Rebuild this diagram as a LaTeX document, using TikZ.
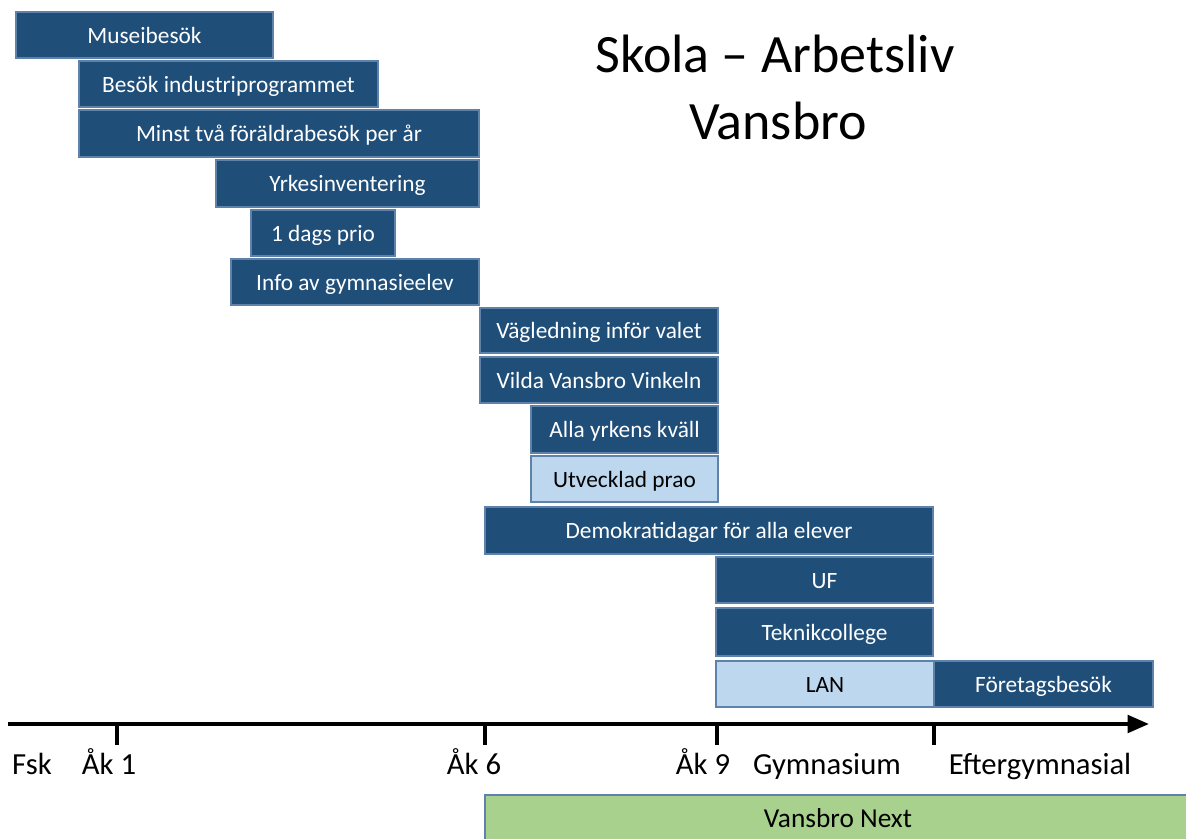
\documentclass[tikz,border=0pt]{standalone}
\usepackage{fontspec}
\setmainfont{Carlito}
\usepackage{tikz}
\usetikzlibrary{fit,arrows.meta}

\definecolor{darkbox}{RGB}{31,78,121}
\definecolor{lightbox}{RGB}{189,215,238}
\definecolor{nextgreen}{RGB}{169,209,142}
\definecolor{boxline}{RGB}{95,130,170}

\tikzset{
  box/.style={draw=boxline,line width=1.2pt,fill=darkbox,inner sep=0pt},
  lightbox/.style={box,fill=lightbox},
  boxtext/.style={text=white,inner sep=0pt,text height=12pt,text depth=0pt,font=\fontsize{17.5}{20}\selectfont},
  darktext/.style={boxtext,text=black},
  axisline/.style={line width=3pt,-{Triangle[length=16pt,width=13pt]}},
  tick/.style={line width=3pt},
  stage/.style={font=\fontsize{23}{26}\selectfont,anchor=base},
  heading/.style={font=\fontsize{40.5}{46}\selectfont,anchor=base},
}

\begin{document}
\begin{tikzpicture}[x=0.75pt,y=-0.75pt]
  \useasboundingbox (0,0) rectangle (1186,839);
  % title
  \node[heading] (title) at (775,72) {Skola -- Arbetsliv};
  \node[heading] (place) at (778,139) {Vansbro};
  % activities
  \foreach \n/\xa/\ya/\xb/\yb/\t in {
      museum/16/12/273/58/Museibesök,
      industri/79/61/378/107/Besök industriprogrammet,
      parents/79/110/479/157/Minst två föräldrabesök per år,
      yrken/216/160/479/207/Yrkesinventering,
      prio/251/210/395/256/1 dags prio,
      gymelev/231/259/479/305/Info av gymnasieelev,
      valet/480/308/718/353/Vägledning inför valet,
      vinkeln/480/357/718/403/Vilda Vansbro Vinkeln,
      kvall/531/406/718/453/Alla yrkens kväll,
      demokrati/485/507/933/554/Demokratidagar för alla elever,
      uf/716/557/933/603/UF,
      teknik/716/608/933/656/Teknikcollege,
      foretag/934/661/1153/707/Företagsbesök}
    \node[box,fit={(\xa,\ya) (\xb,\yb)},label={[boxtext]center:\t}] (\n) {};
  \foreach \n/\xa/\ya/\xb/\yb/\t in {
      prao/531/456/718/502/Utvecklad prao,
      lan/716/661/934/707/LAN}
    \node[lightbox,fit={(\xa,\ya) (\xb,\yb)},label={[darktext]center:\t}] (\n) {};
  % time line
  \coordinate (start) at (8,724);
  \coordinate (end) at (1149,724);
  \draw[axisline] (start) -- (end);
  \foreach \x in {117,485,717,934}
    \draw[tick] (\x,722) -- (\x,745);
  \foreach \n/\x/\t in {fsk/32/Fsk,ak1/109/Åk 1,ak6/474/Åk 6,ak9/703/Åk 9,gym/827/Gymnasium,efter/1040/Eftergymnasial}
    \node[stage] (\n) at (\x,774) {\t};
  % Vansbro Next
  \node[box,fill=nextgreen,fit={(485,795) (1190,845)}] (next) {};
  \node[font=\fontsize{20.5}{24}\selectfont,anchor=base] (nexttext) at (838,827) {Vansbro Next};
\end{tikzpicture}
\end{document}
